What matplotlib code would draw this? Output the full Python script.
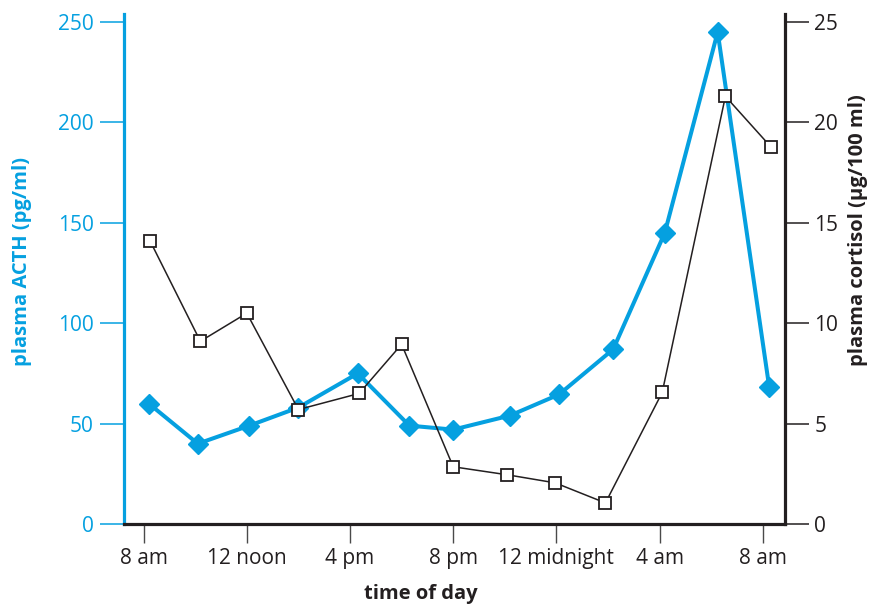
import matplotlib
matplotlib.use('Agg')
import matplotlib.pyplot as plt

# hours after 8 am
hours_acth = [0.2, 2.1, 4.1, 6.0, 8.3, 10.3, 12.0, 14.2, 16.1, 18.2, 20.2, 22.25, 24.25]
acth = [60, 40, 49, 58, 75, 49, 47, 54, 64.5, 87, 145, 245, 68]
hours_cort = [0.25, 2.2, 4.0, 6.0, 8.35, 10.0, 12.0, 14.1, 15.95, 17.9, 20.1, 22.55, 24.3]
cortisol = [14.1, 9.1, 10.5, 5.7, 6.5, 8.95, 2.85, 2.45, 2.05, 1.05, 6.55, 21.3, 18.8]
tick_hours = [0, 4, 8, 12, 16, 20, 24]
tick_labels = ['8 am', '12 noon', '4 pm', '8 pm', '12 midnight', '4 am', '8 am']
acth_ticks = [0, 50, 100, 150, 200, 250]
cort_ticks = [0, 5, 10, 15, 20, 25]

BLUE = '#05a0e0'
BLACK = '#231f20'
GRAY = '#4a4a4a'

plt.rcParams['font.family'] = ['Open Sans', 'DejaVu Sans']

W, H = 870, 605
fig = plt.figure(figsize=(W / 100, H / 100), dpi=100)
x0, x1, y0, y1 = 124, 785, 524, 14
ax = fig.add_axes([x0 / W, 1 - y0 / H, (x1 - x0) / W, (y0 - y1) / H])
ax2 = ax.twinx()

ax.plot(hours_acth, acth, color=BLUE, lw=2.9, marker='D', ms=10.5,
        mfc=BLUE, mec=BLUE, zorder=3)
ax2.plot(hours_cort, cortisol, color=BLACK, lw=1.1, marker='s', ms=9,
         mfc='white', mec=BLACK, mew=1.3, zorder=3)

ax.set_xlim(-0.76, 24.86)
ax.set_ylim(0, 254)
ax2.set_ylim(0, 25.4)

ax.set_xticks(tick_hours)
ax.set_xticklabels(tick_labels)
ax.set_yticks(acth_ticks)
ax2.set_yticks(cort_ticks)

for s in ['top', 'right']:
    ax.spines[s].set_visible(False)
for s in ['top', 'left', 'bottom']:
    ax2.spines[s].set_visible(False)
ax.spines['left'].set_color(BLUE)
ax.spines['left'].set_linewidth(2.3)
ax.spines['bottom'].set_color(BLACK)
ax.spines['bottom'].set_linewidth(2.3)
ax2.spines['right'].set_color(BLACK)
ax2.spines['right'].set_linewidth(2.3)

ax.tick_params(axis='y', direction='out', length=17, width=1.1, color=BLUE,
               labelcolor=BLUE, labelsize=15, pad=5)
ax.tick_params(axis='x', direction='out', length=14, width=1.0, color=GRAY,
               labelcolor=BLACK, labelsize=15, pad=3)
ax2.tick_params(axis='y', direction='out', length=17, width=1.1, color=BLACK,
                labelcolor=BLACK, labelsize=15, pad=4)

fig.text(421 / W, 1 - 594 / H, 'time of day', ha='center', va='center',
         fontsize=14.5, fontweight='bold', color=BLACK)
fig.text(22 / W, 1 - 262 / H, 'plasma ACTH (pg/ml)', ha='center', va='center',
         rotation=90, fontsize=14.5, fontweight='bold', color=BLUE)
fig.text(858 / W, 1 - 230 / H, 'plasma cortisol (\u03bcg/100 ml)', ha='center',
         va='center', rotation=90, fontsize=14.5, fontweight='bold', color=BLACK)

fig.savefig('out.png', dpi=100)
